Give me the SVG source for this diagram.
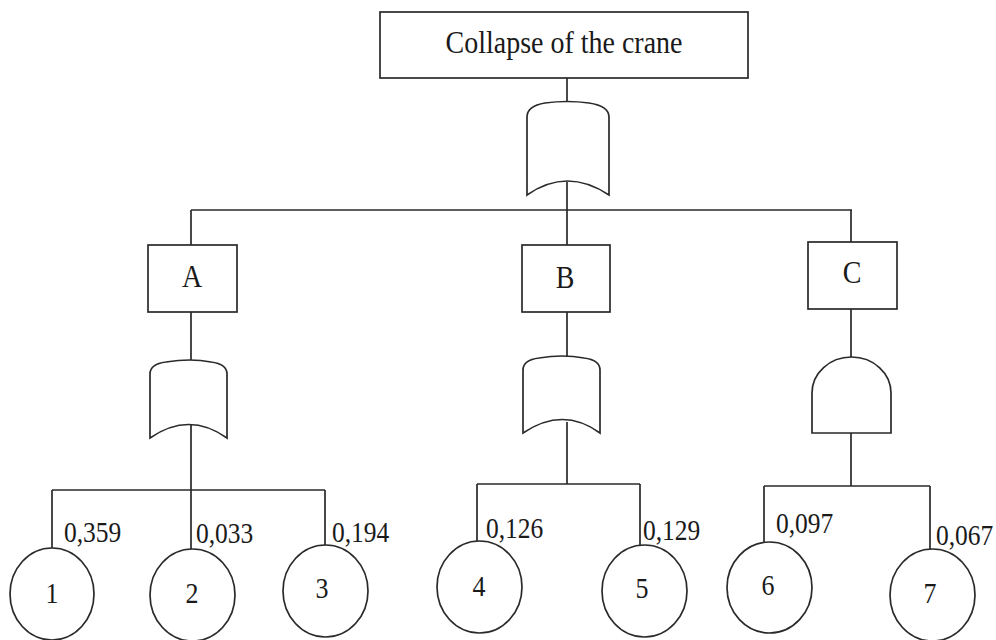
<svg xmlns="http://www.w3.org/2000/svg" width="996" height="640" viewBox="0 0 996 640">
  <style>
    .shape { fill: #ffffff; stroke: #2a2a2a; stroke-width: 1.7; }
    .wire { fill: none; stroke: #2a2a2a; stroke-width: 1.7; }
    .txt { font-family: "Liberation Serif", "Times New Roman", serif; fill: #1a1a1a; }
    .title { font-size: 28px; text-anchor: middle; }
    .ev { font-size: 28px; text-anchor: middle; }
    .num { font-size: 26px; text-anchor: middle; }
    .prob { font-size: 25.5px; }
  </style>

  <!-- connectors -->
  <g id="connectors" class="wire">
    <path d="M567,78 V102"/>
    <path d="M567,182 V210 M191,210 H852 M191,210 V245 M567,210 V245 M851,210 V242"/>
    <path d="M191,312 V361 M567,312 V357 M851,309 V357"/>
    <path d="M191,425 V549 M52,490 H325 M52,490 V548 M325,490 V545"/>
    <path d="M567,422 V484 M477,484 H640 M477,484 V541 M640,484 V545"/>
    <path d="M851,433 V486 M764,486 H930 M764,486 V542 M930,486 V549"/>
  </g>

  <!-- top event -->
  <g id="top-event">
    <rect class="shape" x="380" y="12" width="368" height="66"/>
    <text class="txt title" transform="translate(564,53) scale(1,1.15)">Collapse of the crane</text>
  </g>

  <!-- OR gate under the top event -->
  <g id="gate-top">
    <path class="shape" d="M527,195 V117 Q527,106 545,103 Q567,100 589,103 Q609,106 609,117 V195 Q567,167 527,195 Z"/>
  </g>

  <!-- intermediate events -->
  <g id="event-A">
    <rect class="shape" x="148" y="245" width="89" height="67"/>
    <text class="txt ev" transform="translate(192,287) scale(1,1.15)">A</text>
  </g>
  <g id="event-B">
    <rect class="shape" x="522" y="245" width="88" height="67"/>
    <text class="txt ev" transform="translate(565,288) scale(1,1.15)">B</text>
  </g>
  <g id="event-C">
    <rect class="shape" x="808" y="242" width="89" height="67"/>
    <text class="txt ev" transform="translate(852,283) scale(1,1.15)">C</text>
  </g>

  <!-- gates under A, B (OR) and C (AND) -->
  <g id="gate-A">
    <path class="shape" d="M150,438 V374 Q150,364 166,362 Q191,358 211,362 Q227,364 227,374 V438 Q189,411 150,438 Z"/>
  </g>
  <g id="gate-B">
    <path class="shape" d="M523,433 V370 Q523,360 539,358 Q563,354 584,358 Q600,360 600,370 V433 Q563,406 523,433 Z"/>
  </g>
  <g id="gate-C">
    <path class="shape" d="M812,433 V393 A39.5,36 0 0 1 891,393 V433 Z"/>
  </g>

  <!-- basic events -->
  <g id="basic-1">
    <ellipse class="shape" cx="52" cy="594" rx="42" ry="46"/>
    <text class="txt num" transform="translate(52,603) scale(1,1.15)">1</text>
    <text class="txt prob" transform="translate(64,542) scale(1,1.15)">0,359</text>
  </g>
  <g id="basic-2">
    <ellipse class="shape" cx="192.5" cy="595" rx="42.5" ry="46"/>
    <text class="txt num" transform="translate(192,603) scale(1,1.15)">2</text>
    <text class="txt prob" transform="translate(196,543) scale(1,1.15)">0,033</text>
  </g>
  <g id="basic-3">
    <ellipse class="shape" cx="325.5" cy="591" rx="42.5" ry="46"/>
    <text class="txt num" transform="translate(322,598) scale(1,1.15)">3</text>
    <text class="txt prob" transform="translate(332,542) scale(1,1.15)">0,194</text>
  </g>
  <g id="basic-4">
    <ellipse class="shape" cx="479.5" cy="587" rx="42.5" ry="46"/>
    <text class="txt num" transform="translate(479,596) scale(1,1.15)">4</text>
    <text class="txt prob" transform="translate(486,538) scale(1,1.15)">0,126</text>
  </g>
  <g id="basic-5">
    <ellipse class="shape" cx="644.5" cy="591" rx="42.5" ry="46"/>
    <text class="txt num" transform="translate(642,598) scale(1,1.15)">5</text>
    <text class="txt prob" transform="translate(643,540) scale(1,1.15)">0,129</text>
  </g>
  <g id="basic-6">
    <ellipse class="shape" cx="769.5" cy="587.5" rx="42.5" ry="45.5"/>
    <text class="txt num" transform="translate(768,595) scale(1,1.15)">6</text>
    <text class="txt prob" transform="translate(776,533) scale(1,1.15)">0,097</text>
  </g>
  <g id="basic-7">
    <ellipse class="shape" cx="932.5" cy="595" rx="42.5" ry="46"/>
    <text class="txt num" transform="translate(930,603) scale(1,1.15)">7</text>
    <text class="txt prob" transform="translate(936,545) scale(1,1.15)">0,067</text>
  </g>
</svg>
